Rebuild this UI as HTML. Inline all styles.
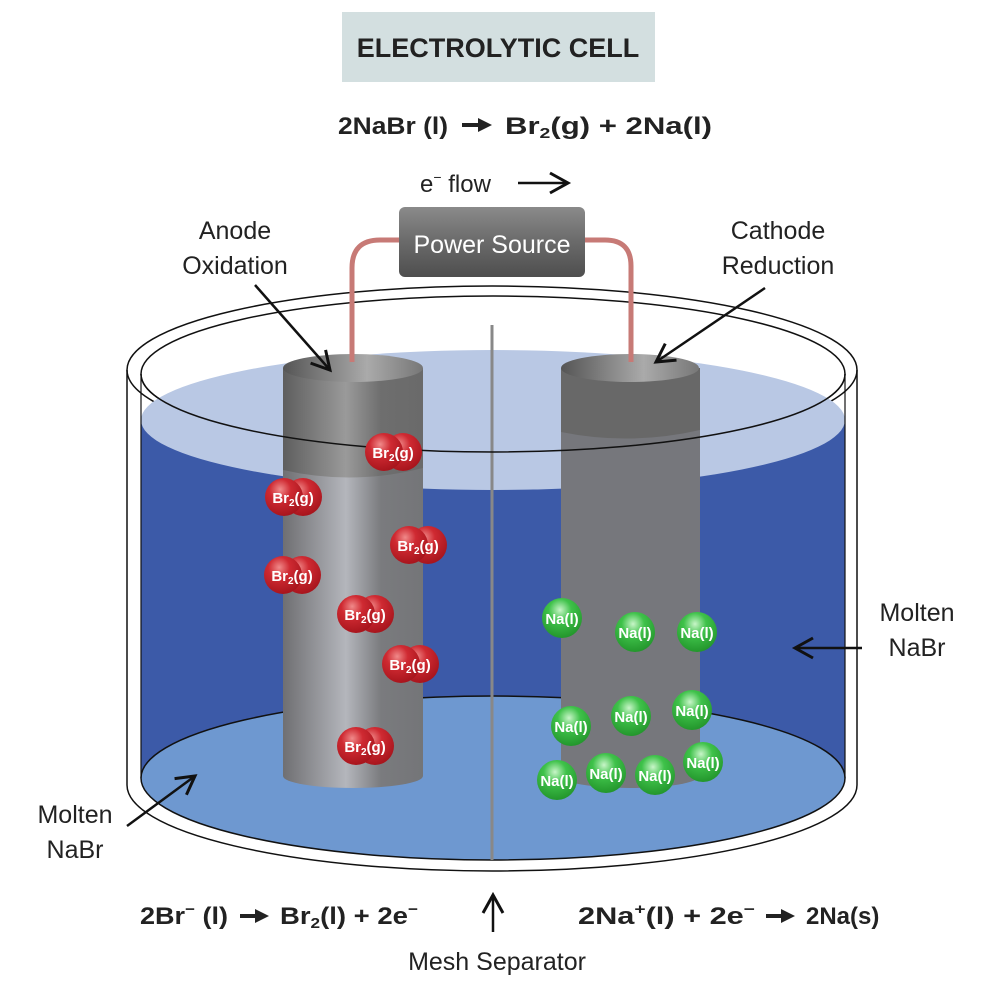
<!DOCTYPE html>
<html><head><meta charset="utf-8"><style>
html,body{margin:0;padding:0;background:#fff}
svg{display:block}
text{font-family:"Liberation Sans",sans-serif}
</style></head><body>
<svg width="1000" height="1000" viewBox="0 0 1000 1000" xmlns="http://www.w3.org/2000/svg">
<defs>
<linearGradient id="gd" x1="0" x2="1"><stop offset="0" stop-color="#5e5e5e"/><stop offset="0.45" stop-color="#9a9a9a"/><stop offset="0.7" stop-color="#6e6e6e"/><stop offset="1" stop-color="#6a6a6a"/></linearGradient>
<linearGradient id="gl" x1="0" x2="1"><stop offset="0" stop-color="#6f6f72"/><stop offset="0.45" stop-color="#b4b6bc"/><stop offset="0.7" stop-color="#7a7b7e"/><stop offset="1" stop-color="#747578"/></linearGradient>
<linearGradient id="gtop" x1="0" x2="1"><stop offset="0" stop-color="#555"/><stop offset="0.6" stop-color="#aaa"/><stop offset="1" stop-color="#777"/></linearGradient>
<linearGradient id="gps" x1="0" y1="0" x2="0" y2="1"><stop offset="0" stop-color="#8a8a8a"/><stop offset="0.5" stop-color="#6a6a6a"/><stop offset="1" stop-color="#4e4e4e"/></linearGradient>
<radialGradient id="rr" cx="0.4" cy="0.3" r="0.7"><stop offset="0" stop-color="#f08a8a"/><stop offset="0.4" stop-color="#cf2a32"/><stop offset="1" stop-color="#a8151d"/></radialGradient>
<radialGradient id="rg" cx="0.45" cy="0.3" r="0.7"><stop offset="0" stop-color="#c8f5c8"/><stop offset="0.4" stop-color="#3fc24a"/><stop offset="1" stop-color="#23962c"/></radialGradient>
<marker id="ah2" markerWidth="24" markerHeight="24" refX="20" refY="12" orient="auto" markerUnits="userSpaceOnUse"><path d="M2,2 L20,12 L2,22" fill="none" stroke="#111" stroke-width="3"/></marker>
</defs>

<rect x="342" y="12" width="313" height="70" fill="#d3dfe0"/>
<text x="498" y="57" text-anchor="middle" font-size="27" font-weight="bold" fill="#222">ELECTROLYTIC CELL</text>

<g font-size="24" font-weight="bold" fill="#222">
<text x="338" y="134" textLength="110" lengthAdjust="spacingAndGlyphs">2NaBr (l)</text>
<text x="505" y="134" textLength="207" lengthAdjust="spacingAndGlyphs">Br<tspan font-size="15" dy="4">2</tspan><tspan dy="-4">(g) + 2Na(l)</tspan></text>
<path d="M462,125 L480,125" stroke="#222" stroke-width="4"/><path d="M478,118 L492,125 L478,132 Z" fill="#222"/>

<text x="140" y="924" textLength="88" lengthAdjust="spacingAndGlyphs">2Br<tspan font-size="15" dy="-10">−</tspan><tspan dy="10"> (l)</tspan></text>
<path d="M240,916 L257,916" stroke="#222" stroke-width="4"/><path d="M255,909 L269,916 L255,923 Z" fill="#222"/>
<text x="280" y="924" textLength="138" lengthAdjust="spacingAndGlyphs">Br<tspan font-size="15" dy="4">2</tspan><tspan dy="-4">(l) + 2e</tspan><tspan font-size="15" dy="-10">−</tspan></text>

<text x="578" y="924" textLength="177" lengthAdjust="spacingAndGlyphs">2Na<tspan font-size="15" dy="-10">+</tspan><tspan dy="10">(l) + 2e</tspan><tspan font-size="15" dy="-10">−</tspan></text>
<path d="M766,916 L783,916" stroke="#222" stroke-width="4"/><path d="M781,909 L795,916 L781,923 Z" fill="#222"/>
<text x="806" y="924">2Na(s)</text>
</g>

<text x="420" y="192" font-size="24" fill="#222">e<tspan font-size="14" dy="-10">−</tspan><tspan dy="10"> flow</tspan></text>
<line x1="518" y1="183" x2="568" y2="183" stroke="#111" stroke-width="2.5" marker-end="url(#ah2)"/>

<ellipse cx="492" cy="370" rx="365" ry="84" fill="none" stroke="#111" stroke-width="1.5"/>
<ellipse cx="493" cy="374" rx="352" ry="78" fill="none" stroke="#111" stroke-width="1.5"/>

<path d="M141,420 L141,778 A352,82 0 0 0 845,778 L845,420 Z" fill="#3c5aa8"/>
<ellipse cx="493" cy="778" rx="352" ry="82" fill="#6e98d0" stroke="#111" stroke-width="1.5"/>
<ellipse cx="493" cy="420" rx="352" ry="70" fill="#b9c8e4"/>

<rect x="283" y="368" width="140" height="408" fill="url(#gl)"/>
<ellipse cx="353" cy="776" rx="70" ry="12" fill="url(#gl)"/>
<path d="M283,368 L283,470 Q353,486 423,468 L423,368 Z" fill="url(#gd)"/>
<ellipse cx="353" cy="368" rx="70" ry="14" fill="url(#gtop)"/>
<rect x="561" y="368" width="139" height="408" fill="#76777c"/>
<ellipse cx="630" cy="776" rx="69" ry="12" fill="#76777c"/>
<path d="M561,368 L561,432 Q630,446 700,430 L700,368 Z" fill="#686868"/>
<ellipse cx="630" cy="368" rx="69" ry="14" fill="url(#gtop)"/>

<line x1="492" y1="325" x2="492" y2="860" stroke="#888" stroke-width="3"/>

<path d="M141,374 A352,78 0 0 0 845,374" fill="none" stroke="#111" stroke-width="1.5"/>
<path d="M127,370 L127,785 A365,86 0 0 0 857,785 L857,370" fill="none" stroke="#111" stroke-width="1.5"/>
<line x1="141" y1="374" x2="141" y2="778" stroke="#111" stroke-width="1.2"/>
<line x1="845" y1="374" x2="845" y2="778" stroke="#111" stroke-width="1.2"/>

<path d="M352,362 L352,268 Q352,240 380,240 L400,240" fill="none" stroke="#c77a76" stroke-width="5"/>
<path d="M585,240 L605,240 Q631,240 631,266 L631,362" fill="none" stroke="#c77a76" stroke-width="5"/>
<rect x="399" y="207" width="186" height="70" rx="6" fill="url(#gps)"/>
<text x="492" y="253" text-anchor="middle" font-size="25" fill="#fff">Power Source</text>

<g font-size="25" fill="#222" text-anchor="middle">
<text x="235" y="239">Anode</text><text x="235" y="274">Oxidation</text>
<text x="778" y="239">Cathode</text><text x="778" y="274">Reduction</text>
<text x="917" y="621">Molten</text><text x="917" y="656">NaBr</text>
<text x="75" y="823">Molten</text><text x="75" y="858">NaBr</text>
<text x="497" y="970">Mesh Separator</text>
</g>
<line x1="255" y1="285" x2="330" y2="370" stroke="#111" stroke-width="2.5" marker-end="url(#ah2)"/>
<line x1="765" y1="288" x2="656" y2="362" stroke="#111" stroke-width="2.5" marker-end="url(#ah2)"/>
<line x1="862" y1="648" x2="795" y2="648" stroke="#111" stroke-width="2.5" marker-end="url(#ah2)"/>
<line x1="127" y1="826" x2="195" y2="776" stroke="#111" stroke-width="2.5" marker-end="url(#ah2)"/>
<line x1="493" y1="932" x2="493" y2="895" stroke="#111" stroke-width="2.5" marker-end="url(#ah2)"/>

<g font-size="15" font-weight="bold" fill="#fff" text-anchor="middle">
<g transform="translate(393,452)"><circle cx="10" cy="0" r="19" fill="url(#rr)"/><circle cx="-9" cy="0" r="19" fill="url(#rr)"/><text y="6">Br<tspan font-size="10" dy="3">2</tspan><tspan dy="-3">(g)</tspan></text></g>
<g transform="translate(293,497)"><circle cx="10" cy="0" r="19" fill="url(#rr)"/><circle cx="-9" cy="0" r="19" fill="url(#rr)"/><text y="6">Br<tspan font-size="10" dy="3">2</tspan><tspan dy="-3">(g)</tspan></text></g>
<g transform="translate(418,545)"><circle cx="10" cy="0" r="19" fill="url(#rr)"/><circle cx="-9" cy="0" r="19" fill="url(#rr)"/><text y="6">Br<tspan font-size="10" dy="3">2</tspan><tspan dy="-3">(g)</tspan></text></g>
<g transform="translate(292,575)"><circle cx="10" cy="0" r="19" fill="url(#rr)"/><circle cx="-9" cy="0" r="19" fill="url(#rr)"/><text y="6">Br<tspan font-size="10" dy="3">2</tspan><tspan dy="-3">(g)</tspan></text></g>
<g transform="translate(365,614)"><circle cx="10" cy="0" r="19" fill="url(#rr)"/><circle cx="-9" cy="0" r="19" fill="url(#rr)"/><text y="6">Br<tspan font-size="10" dy="3">2</tspan><tspan dy="-3">(g)</tspan></text></g>
<g transform="translate(410,664)"><circle cx="10" cy="0" r="19" fill="url(#rr)"/><circle cx="-9" cy="0" r="19" fill="url(#rr)"/><text y="6">Br<tspan font-size="10" dy="3">2</tspan><tspan dy="-3">(g)</tspan></text></g>
<g transform="translate(365,746)"><circle cx="10" cy="0" r="19" fill="url(#rr)"/><circle cx="-9" cy="0" r="19" fill="url(#rr)"/><text y="6">Br<tspan font-size="10" dy="3">2</tspan><tspan dy="-3">(g)</tspan></text></g>
</g>

<g font-size="15" font-weight="bold" fill="#fff" text-anchor="middle">
<circle cx="562" cy="618" r="20" fill="url(#rg)"/><text x="562" y="624">Na(l)</text>
<circle cx="635" cy="632" r="20" fill="url(#rg)"/><text x="635" y="638">Na(l)</text>
<circle cx="697" cy="632" r="20" fill="url(#rg)"/><text x="697" y="638">Na(l)</text>
<circle cx="571" cy="726" r="20" fill="url(#rg)"/><text x="571" y="732">Na(l)</text>
<circle cx="631" cy="716" r="20" fill="url(#rg)"/><text x="631" y="722">Na(l)</text>
<circle cx="692" cy="710" r="20" fill="url(#rg)"/><text x="692" y="716">Na(l)</text>
<circle cx="703" cy="762" r="20" fill="url(#rg)"/><text x="703" y="768">Na(l)</text>
<circle cx="655" cy="775" r="20" fill="url(#rg)"/><text x="655" y="781">Na(l)</text>
<circle cx="606" cy="773" r="20" fill="url(#rg)"/><text x="606" y="779">Na(l)</text>
<circle cx="557" cy="780" r="20" fill="url(#rg)"/><text x="557" y="786">Na(l)</text>
</g>
</svg>
</body></html>
